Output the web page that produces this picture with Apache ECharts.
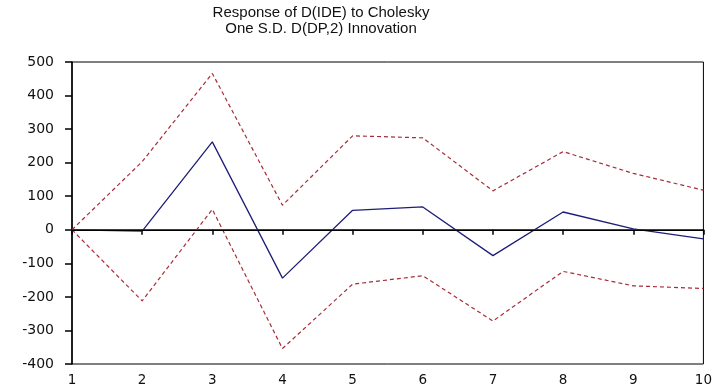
<!DOCTYPE html>
<html><head><meta charset="utf-8">
<script src="https://cdn.jsdelivr.net/npm/echarts@6/dist/echarts.min.js"></script>
<style>html,body{margin:0;padding:0;background:#fff}#c{width:715px;height:389px}</style>
</head><body><div id="c"></div>
<script>
const periods = [1,2,3,4,5,6,7,8,9,10];
const response = [0,-4,262,-144,58,68,-77,53,3,-27];
const upperBand = [0,203,466,73,280,274,116,233,168,118];
const lowerBand = [0,-212,61,-354,-162,-137,-272,-124,-167,-175];
const titleLines = ['Response of D(IDE) to Cholesky','One S.D. D(DP,2) Innovation'];

const pairs = arr => periods.map((p,i)=>[p,arr[i]]);
const font = 'Liberation Sans, Arial, sans-serif';
const tickFont = 'DejaVu Sans, sans-serif';
const chart = echarts.init(document.getElementById('c'));
chart.setOption({
  animation:false,
  title:{text:titleLines.join('\n'),left:316,textAlign:'center',top:0,
    textStyle:{fontFamily:font,fontSize:15,fontWeight:'normal',color:'#111',lineHeight:16}},
  grid:{left:72,right:8,top:62,bottom:25,show:true,borderColor:'#000',borderWidth:1,backgroundColor:'transparent'},
  xAxis:{type:'value',min:1,max:10,interval:1,
    axisLine:{lineStyle:{color:'#000',width:1.5}},
    axisTick:{show:true,length:5,lineStyle:{color:'#000',width:1.5}},
    axisLabel:{fontFamily:tickFont,fontSize:13.5,color:'#111',margin:9},
    splitLine:{show:false}},
  yAxis:{type:'value',min:-400,max:500,interval:100,
    axisLine:{show:true,lineStyle:{color:'#000',width:1.5}},
    axisTick:{show:true,length:7,lineStyle:{color:'#000',width:1.5}},
    axisLabel:{fontFamily:tickFont,fontSize:14,color:'#111',margin:18},
    splitLine:{show:false}},
  series:[
    {type:'line',data:pairs(upperBand),symbol:'none',lineStyle:{color:'#a82c38',width:1.2,type:[4,3]},z:3},
    {type:'line',data:pairs(lowerBand),symbol:'none',lineStyle:{color:'#a82c38',width:1.2,type:[4,3]},z:3},
    {type:'line',data:pairs(response),symbol:'none',lineStyle:{color:'#1e1e78',width:1.3},z:4,
      markLine:{silent:true,symbol:'none',label:{show:false},lineStyle:{color:'#000',type:'solid',width:1.2},data:[{yAxis:0}]}}
  ]
});
</script></body></html>
